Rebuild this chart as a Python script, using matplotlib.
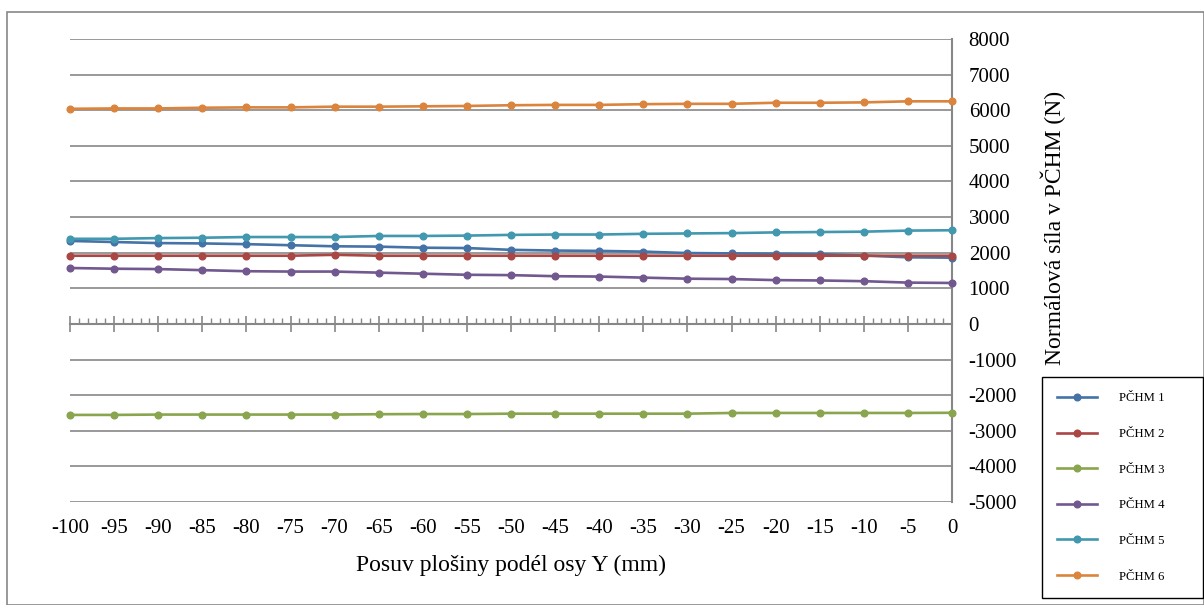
import numpy as np
import matplotlib
matplotlib.use("Agg")
import matplotlib.pyplot as plt
from matplotlib.ticker import MultipleLocator
from matplotlib.patches import Rectangle

plt.rcParams['font.family'] = ['Liberation Serif', 'DejaVu Serif']
plt.rcParams['axes.unicode_minus'] = False

# Data
posun = [-100, -95, -90, -85, -80, -75, -70, -65, -60, -55, -50,
         -45, -40, -35, -30, -25, -20, -15, -10, -5, 0]
pchm1 = [2330, 2300, 2270, 2260, 2240, 2210, 2180, 2170, 2140, 2130, 2080,
         2060, 2050, 2030, 1990, 1980, 1970, 1960, 1920, 1870, 1860]
pchm2 = [1915, 1915, 1915, 1915, 1915, 1915, 1940, 1915, 1915, 1915, 1915,
         1915, 1915, 1915, 1915, 1915, 1915, 1915, 1915, 1915, 1915]
pchm3 = [-2555, -2555, -2545, -2545, -2545, -2545, -2545, -2535, -2530, -2530, -2520,
         -2520, -2520, -2520, -2520, -2500, -2500, -2500, -2500, -2500, -2495]
pchm4 = [1570, 1550, 1540, 1510, 1480, 1470, 1470, 1440, 1410, 1380, 1370,
         1340, 1330, 1300, 1270, 1260, 1230, 1220, 1200, 1160, 1150]
pchm5 = [2390, 2390, 2410, 2420, 2440, 2440, 2440, 2470, 2470, 2480, 2500,
         2510, 2510, 2530, 2540, 2550, 2570, 2580, 2590, 2620, 2630]
pchm6 = [6040, 6050, 6050, 6070, 6080, 6080, 6100, 6100, 6110, 6120, 6140,
         6150, 6150, 6170, 6180, 6180, 6210, 6210, 6220, 6250, 6250]

serie = [pchm1, pchm2, pchm3, pchm4, pchm5, pchm6]
nazvy = ["PČHM 1", "PČHM 2", "PČHM 3", "PČHM 4", "PČHM 5", "PČHM 6"]
barvy = ['#4573A7', '#AA4643', '#89A54E', '#71588F', '#4198AF', '#DB843D']

y_ticks = list(range(-5000, 8001, 1000))
grey = '#878787'

W, H = 1204, 605
fig = plt.figure(figsize=(W / 100, H / 100), dpi=100)
ax = fig.add_axes([70 / W, 1 - 502 / H, (952 - 70) / W, (502 - 39) / H])

for vals, name, col in zip(serie, nazvy, barvy):
    ax.plot(posun, vals, color=col, lw=1.9, marker='o', markersize=4.8,
            label=name, zorder=3, clip_on=False)

ax.set_xlim(-100, 0)
ax.set_ylim(-5000, 8000)
ax.set_yticks(y_ticks)
ax.yaxis.tick_right()
ax.tick_params(axis='y', length=0, pad=12, labelsize=15)
ax.grid(axis='y', color=grey, lw=1.2)
ax.set_axisbelow(True)

for s in ['top', 'left', 'bottom']:
    ax.spines[s].set_visible(False)
ax.spines['right'].set_color(grey)
ax.spines['right'].set_linewidth(1.5)

# x tick labels sit at the bottom of the plot area
ax.set_xticks(posun)
ax.set_xticklabels([str(v) for v in posun])
ax.tick_params(axis='x', length=0, pad=12, labelsize=15)

# the actual x axis line crosses at y = 0
sec = ax.secondary_xaxis(5000 / 13000)
sec.set_xticks(posun)
sec.set_xticklabels([])
sec.xaxis.set_minor_locator(MultipleLocator(1))
sec.tick_params(which='major', direction='inout', length=11, width=1.2, color=grey)
sec.tick_params(which='minor', direction='in', length=4, width=1.0, color=grey)
sec.spines['bottom'].set_color(grey)
sec.spines['bottom'].set_linewidth(1.5)

ax.set_xlabel("Posuv plošiny podél osy Y (mm)", fontsize=17, labelpad=12)
fig.text(1053 / W, 1 - 228 / H, "Normálová síla v PČHM (N)", rotation=90,
         fontsize=17, ha='center', va='center')

leg = fig.legend(loc='upper left',
                 bbox_to_anchor=(1042 / W, 1 - 592 / H, (1203 - 1042) / W, (592 - 377) / H),
                 mode='expand', fontsize=9.2, labelspacing=1.85, handlelength=3.1,
                 handletextpad=1.75, borderpad=1.2, borderaxespad=0, fancybox=False,
                 framealpha=1, edgecolor='black')
leg.get_frame().set_linewidth(1.0)

# outer chart border
fig.patches.append(Rectangle((7 / W, 0), 1 - 7 / W, 1 - 12 / H, transform=fig.transFigure,
                             fill=False, edgecolor=grey, lw=1.2))

fig.savefig("out.png", dpi=100)
